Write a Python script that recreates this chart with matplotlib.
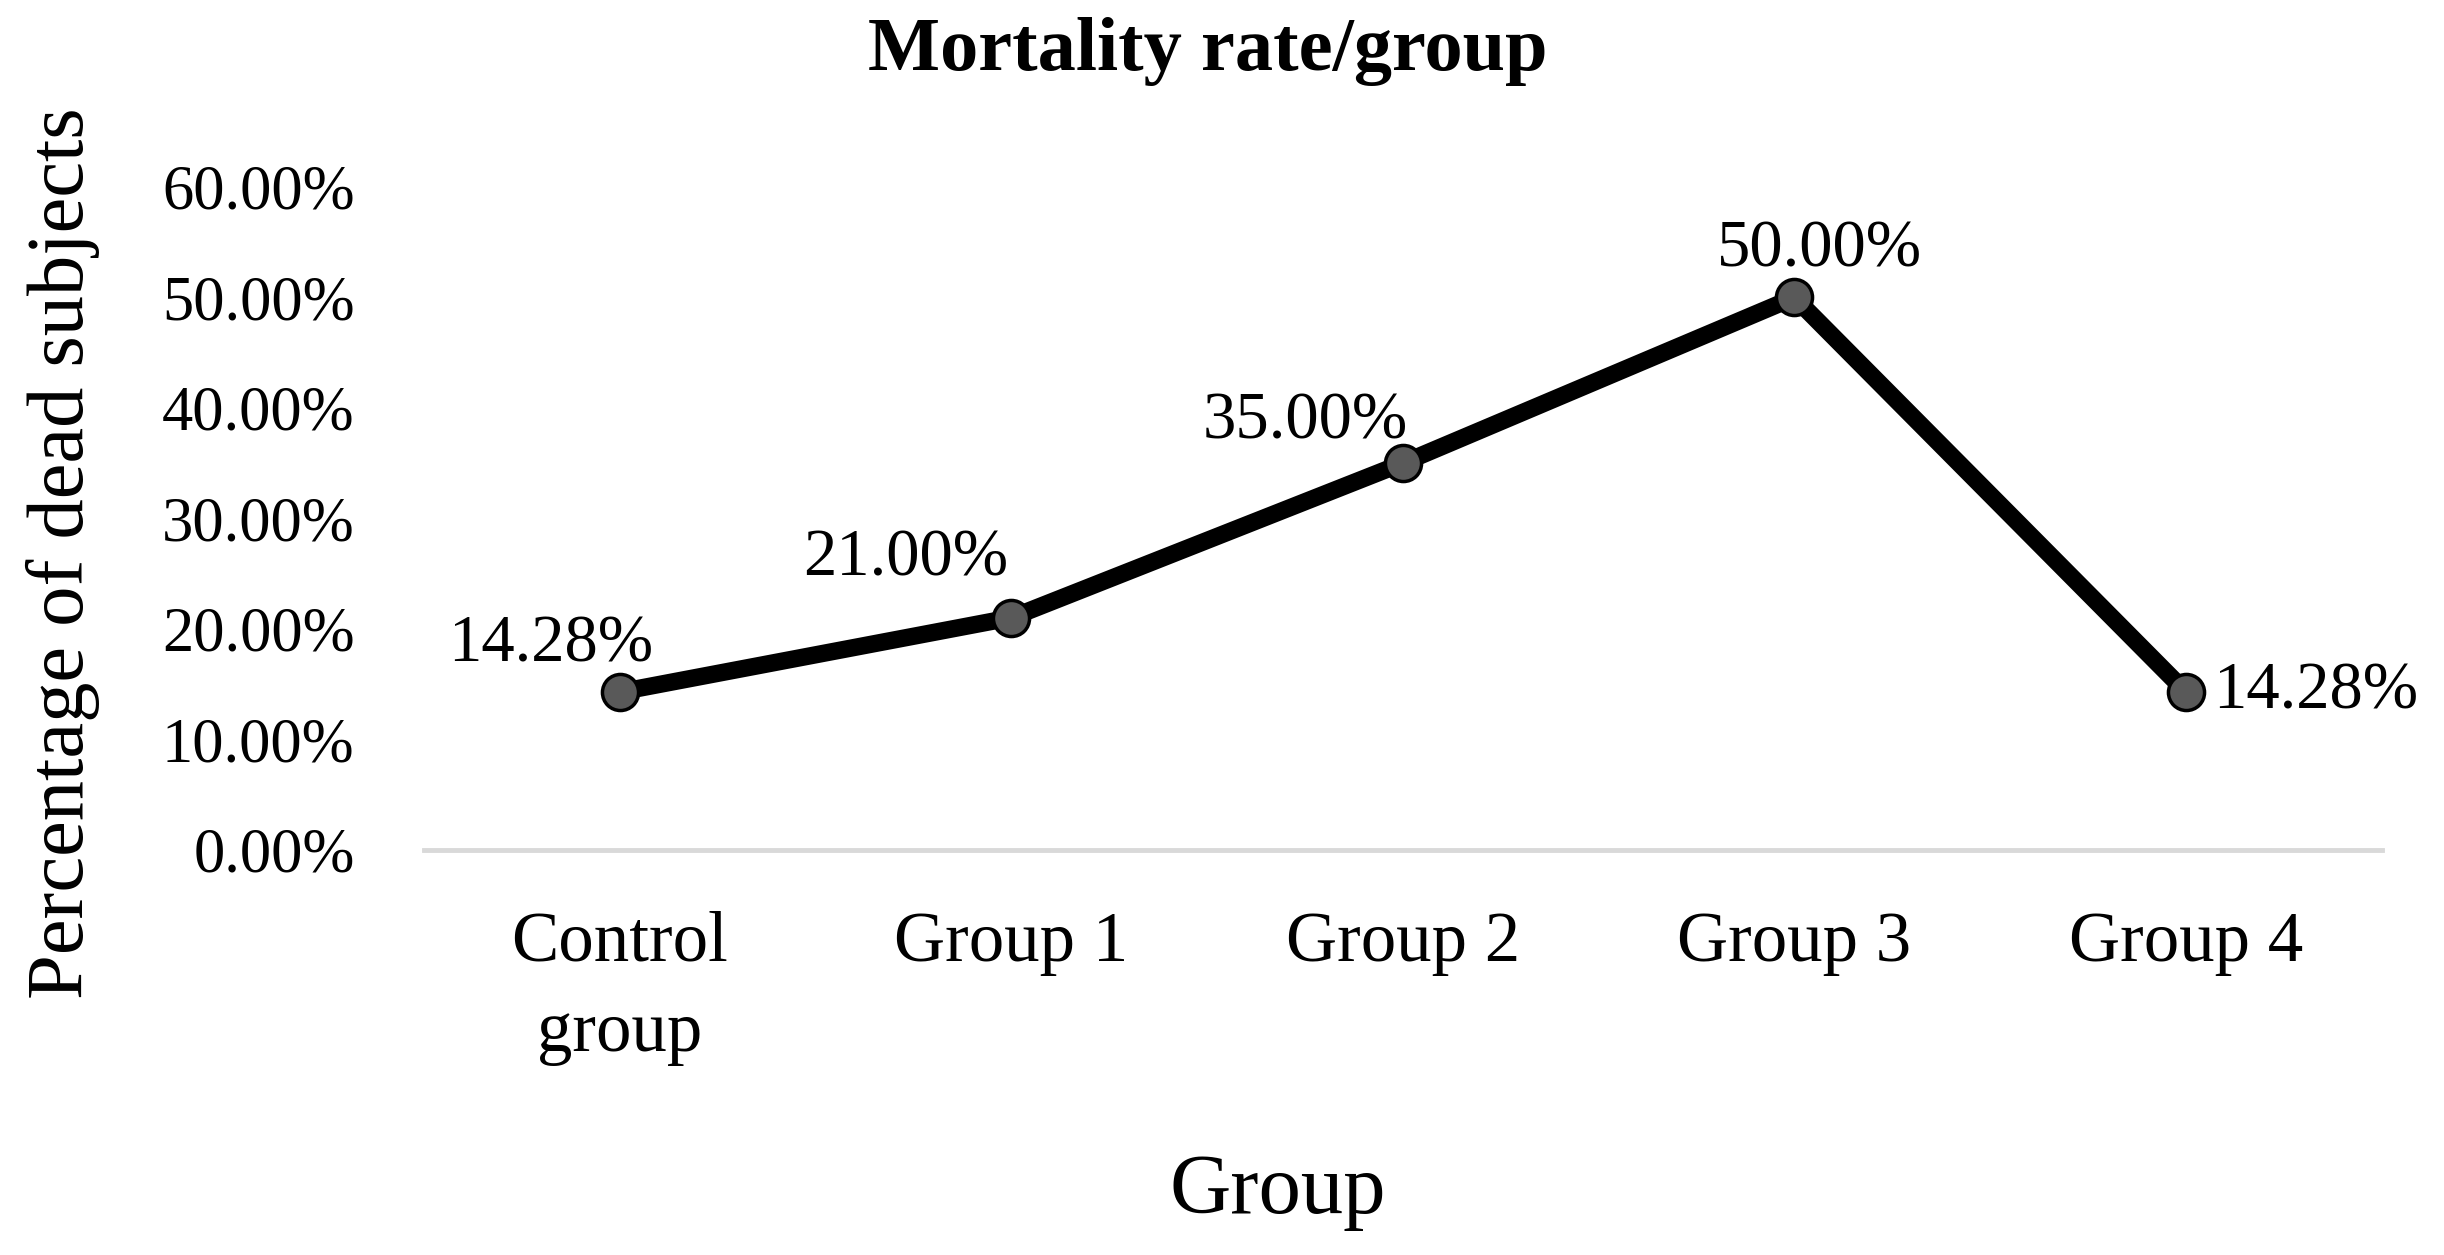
import matplotlib
matplotlib.use("Agg")
import matplotlib.pyplot as plt
from matplotlib.ticker import PercentFormatter

plt.rcParams['font.family'] = ['Liberation Serif', 'DejaVu Serif']

# data
categories = ['Control\ngroup', 'Group 1', 'Group 2', 'Group 3', 'Group 4']
mortality = [0.1428, 0.21, 0.35, 0.50, 0.1428]
value_labels = ['14.28%', '21.00%', '35.00%', '50.00%', '14.28%']
y_ticks = [0.0, 0.1, 0.2, 0.3, 0.4, 0.5, 0.6]

# label offsets in pixels (dx, dy) and alignment
label_offsets = [(-69, 47), (-106, 59), (-98, 41), (25, 47), (27, 0)]
label_ha = ['center', 'center', 'center', 'center', 'left']

fig = plt.figure(figsize=(24.44, 12.55), dpi=100)
ax = fig.add_axes([0.1735, 0.323, 0.801, 0.528])

x = list(range(len(categories)))
ax.plot(x, mortality, color='black', linewidth=12.5, solid_capstyle='round',
        marker='o', markersize=26, markerfacecolor='#595959',
        markeredgecolor='black', markeredgewidth=2.5, zorder=3)

for xi, yi, txt, off, ha in zip(x, mortality, value_labels, label_offsets, label_ha):
    ax.annotate(txt, (xi, yi), xytext=off, textcoords='offset pixels',
                ha=ha, va='center', fontsize=48)

ax.set_xlim(-0.5, len(categories) - 0.5)
ax.set_ylim(0, 0.6)
ax.set_yticks(y_ticks)
ax.yaxis.set_major_formatter(PercentFormatter(1.0, decimals=2))
ax.set_xticks(x)
ax.set_xticklabels(categories, fontsize=51, linespacing=1.5)
ax.tick_params(axis='y', length=0, pad=50, labelsize=45)
ax.tick_params(axis='x', length=0, pad=44)

for s in ['top', 'right', 'left']:
    ax.spines[s].set_visible(False)
ax.spines['bottom'].set_color('#d9d9d9')
ax.spines['bottom'].set_linewidth(3.5)
ax.spines['bottom'].set_zorder(1)

fig.text(0.494, 0.959, 'Mortality rate/group', ha='center', va='center',
         fontsize=55, fontweight='bold')
ax.set_ylabel('Percentage of dead subjects', fontsize=58)
ax.yaxis.set_label_coords(0.041, 0.559, transform=fig.transFigure)
fig.text(0.523, 0.05, 'Group', ha='center', va='center', fontsize=61)

fig.savefig('out.png', dpi=100, facecolor='white')
